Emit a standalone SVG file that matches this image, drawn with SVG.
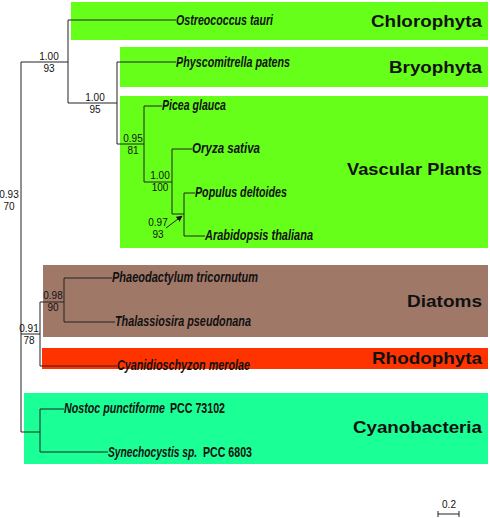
<svg xmlns="http://www.w3.org/2000/svg" width="490" height="518" viewBox="0 0 490 518">
<style>
.sp{font-family:"Liberation Sans",Arial,sans-serif;font-weight:bold;font-style:italic;font-size:14px;fill:#111}
.up{font-style:normal}
.grp{font-family:"Liberation Sans",Arial,sans-serif;font-weight:bold;font-size:17px;fill:#111;text-anchor:end}
.sup{font-family:"Liberation Sans Narrow","Liberation Sans",Arial,sans-serif;font-size:10px;fill:#111;text-anchor:middle}
.br{stroke:#222;stroke-width:1;fill:none}
.green{fill:#66ff1a}
.brown{fill:#a07868}
.red{fill:#ff3300}
.cyan{fill:#1aff96}
</style>
<defs>
<marker id="ah" viewBox="0 0 10 10" refX="9" refY="5" markerWidth="6" markerHeight="6" orient="auto"><path d="M0,0 L10,5 L0,10 z" fill="#111"/></marker>
</defs>
<rect width="490" height="518" fill="#fff"/>
<g id="clade-chlorophyta"><rect class="green" x="71" y="2" width="417" height="38"/><text class="grp" x="482" y="27" textLength="111" lengthAdjust="spacingAndGlyphs">Chlorophyta</text></g>
<g id="clade-bryophyta"><rect class="green" x="120" y="47" width="368" height="40"/><text class="grp" x="482" y="73" textLength="93" lengthAdjust="spacingAndGlyphs">Bryophyta</text></g>
<g id="clade-vascular"><rect class="green" x="120" y="96" width="368" height="152"/><text class="grp" x="482" y="175" textLength="135" lengthAdjust="spacingAndGlyphs">Vascular Plants</text></g>
<g id="clade-diatoms"><rect class="brown" x="43" y="265" width="445" height="72"/><text class="grp" x="482" y="307" textLength="75" lengthAdjust="spacingAndGlyphs">Diatoms</text></g>
<g id="clade-rhodophyta"><rect class="red" x="42" y="348" width="446" height="21"/><text class="grp" x="482" y="364" textLength="110" lengthAdjust="spacingAndGlyphs">Rhodophyta</text></g>
<g id="clade-cyanobacteria"><rect class="cyan" x="24" y="393" width="464" height="71"/><text class="grp" x="482" y="433" textLength="129" lengthAdjust="spacingAndGlyphs">Cyanobacteria</text></g>

<g id="connectors" class="br">
<path d="M21,62 V432"/>
<path d="M21,62 H68 M68,20 V103 M68,20 H176 M68,103 H117"/>
<path d="M117,62 V144 M117,62 H176 M117,144 H144"/>
<path d="M144,106 V182 M144,106 H162 M144,182 H172"/>
<path d="M172,149 V214 M172,149 H192 M172,214 H184"/>
<path d="M184,193 V236 M184,193 H195 M184,236 H205"/>
<path d="M21,334 H40 M40,302 V366 M40,302 H64 M40,366 H117"/>
<path d="M64,278 V322 M64,278 H112 M64,322 H115"/>
<path d="M21,432 H40 M40,409 V452 M40,409 H64 M40,452 H108"/>
<path d="M166,228 L182,216" marker-end="url(#ah)"/>
</g>

<g id="sp-ostreococcus"><text class="sp" x="176" y="25" textLength="97" lengthAdjust="spacingAndGlyphs">Ostreococcus tauri</text></g>
<g id="sp-physcomitrella"><text class="sp" x="176" y="67" textLength="114" lengthAdjust="spacingAndGlyphs">Physcomitrella patens</text></g>
<g id="sp-picea"><text class="sp" x="162" y="110" textLength="64" lengthAdjust="spacingAndGlyphs">Picea glauca</text></g>
<g id="sp-oryza"><text class="sp" x="192" y="153" textLength="68" lengthAdjust="spacingAndGlyphs">Oryza sativa</text></g>
<g id="sp-populus"><text class="sp" x="195" y="197" textLength="92" lengthAdjust="spacingAndGlyphs">Populus deltoides</text></g>
<g id="sp-arabidopsis"><text class="sp" x="205" y="240" textLength="108" lengthAdjust="spacingAndGlyphs">Arabidopsis thaliana</text></g>
<g id="sp-phaeodactylum"><text class="sp" x="112" y="282" textLength="146" lengthAdjust="spacingAndGlyphs">Phaeodactylum tricornutum</text></g>
<g id="sp-thalassiosira"><text class="sp" x="115" y="326" textLength="136" lengthAdjust="spacingAndGlyphs">Thalassiosira pseudonana</text></g>
<g id="sp-cyanidioschyzon"><text class="sp" x="117" y="370" textLength="133" lengthAdjust="spacingAndGlyphs">Cyanidioschyzon merolae</text></g>
<g id="sp-nostoc"><text class="sp" transform="translate(64,413) scale(0.75,1)" textLength="134.7" lengthAdjust="spacingAndGlyphs">Nostoc punctiforme</text><text class="sp up" transform="translate(170,413) scale(0.75,1)" textLength="73.3" lengthAdjust="spacingAndGlyphs">PCC 73102</text></g>
<g id="sp-synechocystis"><text class="sp" transform="translate(108,457) scale(0.75,1)" textLength="118.7" lengthAdjust="spacingAndGlyphs">Synechocystis sp.</text><text class="sp up" transform="translate(203,457) scale(0.75,1)" textLength="65.3" lengthAdjust="spacingAndGlyphs">PCC 6803</text></g>

<g id="support-labels">
<text class="sup" x="49" y="60">1.00</text><text class="sup" x="49" y="72">93</text>
<text class="sup" x="95" y="101">1.00</text><text class="sup" x="95" y="113">95</text>
<text class="sup" x="133" y="142">0.95</text><text class="sup" x="133" y="154">81</text>
<text class="sup" x="160" y="179">1.00</text><text class="sup" x="160" y="191">100</text>
<text class="sup" x="158" y="226">0.97</text><text class="sup" x="158" y="238">93</text>
<text class="sup" x="9" y="198">0.93</text><text class="sup" x="9" y="210">70</text>
<text class="sup" x="53" y="299">0.98</text><text class="sup" x="53" y="311">90</text>
<text class="sup" x="29" y="332">0.91</text><text class="sup" x="29" y="344">78</text>
</g>

<g id="scale-bar">
<text class="sup" x="449" y="508">0.2</text>
<path class="br" d="M438,514 H459 M438,511 V517 M459,511 V517"/>
</g>
</svg>
